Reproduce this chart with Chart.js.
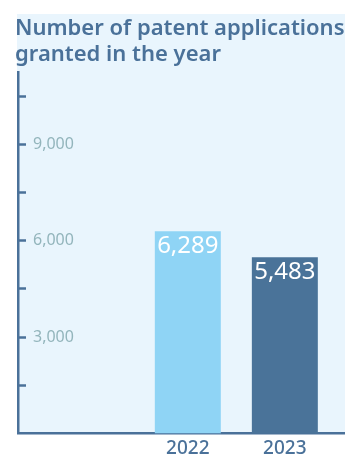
<!DOCTYPE html>
<html>
<head>
<meta charset="utf-8">
<script src="https://cdn.jsdelivr.net/npm/chart.js@4"></script>
<style>
  html, body { margin: 0; padding: 0; background: #fff; overflow: hidden; }
  #wrap { position: relative; width: 345px; height: 458px; }
  #panel { position: absolute; left: 17px; top: 14px; width: 328px; height: 420px; background: #e9f5fd; }
  #myChartBar { position: absolute; left: 0; top: 0; }
</style>
</head>
<body>
<div id="wrap">
  <div id="panel"></div>
  <canvas id="myChartBar" width="345" height="458"></canvas>
</div>
<script>
const years = [2022, 2023];
const granted = [6289, 5483];
const yTicks = [1500, 3000, 4500, 6000, 7500, 9000, 10500];
const yLabelled = [3000, 6000, 9000];
const barColors = ['#8fd4f5', '#4a7399'];

const axisColor = '#4a7199';

// draws the value on top of each bar, inside it
const valueLabels = {
    id: 'valueLabels',
    afterDatasetsDraw(chart) {
        const ctx = chart.ctx;
        const meta = chart.getDatasetMeta(0);
        ctx.save();
        ctx.fillStyle = '#ffffff';
        ctx.font = '24px "Noto Sans"';
        ctx.textAlign = 'center';
        ctx.textBaseline = 'top';
        meta.data.forEach((bar, i) => {
            ctx.fillText(granted[i].toLocaleString('en-US'), bar.x, bar.y + 3);
        });
        ctx.restore();
    }
};

const ctx = document.getElementById('myChartBar').getContext('2d');
new Chart(ctx, {
    type: 'bar',
    data: {
        datasets: [{
            label: 'Granted',
            data: years.map((y, i) => ({ x: y, y: granted[i] })),
            backgroundColor: barColors,
            borderWidth: 0,
            categoryPercentage: 1,
            barPercentage: 0.68
        }]
    },
    options: {
        responsive: false,
        animation: false,
        layout: { padding: { left: 15, right: 0, top: 0, bottom: -7 } },
        plugins: {
            legend: { display: false },
            tooltip: { enabled: false },
            title: {
                display: true,
                text: ['Number of patent applications', 'granted in the year'],
                align: 'start',
                color: axisColor,
                font: { family: '"Noto Sans"', size: 22, weight: '600', lineHeight: 1.18 },
                padding: { top: 16, bottom: 4 }
            }
        },
        scales: {
            x: {
                type: 'linear',
                offset: false,
                bounds: 'data',
                min: 2020.25,
                max: 2023.62,
                afterBuildTicks: (scale) => { scale.ticks = years.map(v => ({ value: v })); },
                grid: { display: true, drawOnChartArea: false, drawTicks: false },
                border: { color: axisColor, width: 2.5 },
                ticks: {
                    color: axisColor,
                    font: { family: '"Noto Sans"', size: 19, weight: '500', lineHeight: 1 },
                    padding: 6,
                    callback: (v) => String(v)
                }
            },
            y: {
                min: 0,
                max: 11250,
                afterBuildTicks: (scale) => { scale.ticks = yTicks.map(v => ({ value: v })); },
                afterFit: (scale) => { scale.width = 3; },
                grid: {
                    drawOnChartArea: false,
                    drawTicks: true,
                    tickLength: -8,
                    tickWidth: 2.5,
                    tickColor: axisColor
                },
                border: { color: axisColor, width: 2.5 },
                ticks: {
                    mirror: true,
                    padding: 15,
                    color: '#93b5bc',
                    font: { family: '"Noto Sans"', size: 16 },
                    callback: (v) => yLabelled.includes(v) ? v.toLocaleString('en-US') : ''
                }
            }
        }
    },
    plugins: [valueLabels]
});
</script>
</body>
</html>
